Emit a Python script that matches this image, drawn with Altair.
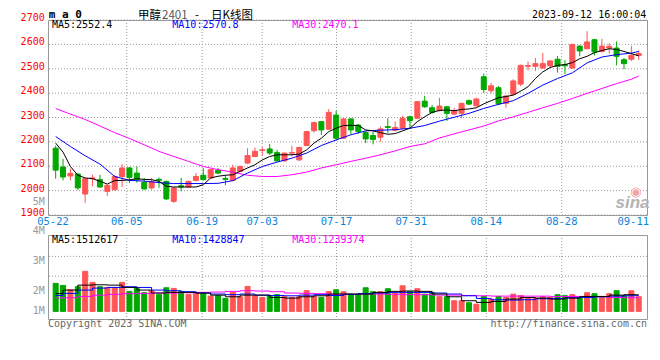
import altair as alt
import pandas as pd

MONO = "DejaVu Sans Mono"
CJK = "Noto Sans CJK SC"
RED = "#ff5555"
GREEN = "#00a800"
GRID = "#9a9a9a"
BLUE_LBL = "#0a84dc"

# ---------------- data ----------------
day_idx = list(range(80))
opens = [2174, 2097, 2060, 2068, 1986, 2049, 2045, 1997, 2004, 2058,
         2093, 2072, 2034, 2011, 2046, 2038, 1956, 2020, 2015, 2042,
         2063, 2052, 2083, 2050, 2042, 2079, 2113, 2140, 2165, 2171,
         2156, 2122, 2154, 2126, 2185, 2246, 2283, 2252, 2310, 2215,
         2294, 2269, 2238, 2226, 2219, 2263, 2248, 2256, 2303, 2297,
         2367, 2340, 2328, 2344, 2314, 2317, 2369, 2348, 2467, 2410,
         2422, 2358, 2395, 2437, 2510, 2510, 2503, 2512, 2539, 2517,
         2503, 2593, 2582, 2619, 2571, 2585, 2585, 2537, 2539, 2555]
closes = [2084, 2056, 2071, 2011, 2049, 2052, 2015, 2022, 2058, 2093,
          2054, 2045, 2007, 2038, 2042, 1966, 2011, 2015, 2038, 2058,
          2045, 2086, 2072, 2046, 2093, 2099, 2144, 2161, 2167, 2154,
          2122, 2154, 2156, 2177, 2242, 2279, 2249, 2321, 2215, 2294,
          2249, 2242, 2212, 2210, 2253, 2259, 2259, 2297, 2287, 2365,
          2344, 2321, 2347, 2317, 2328, 2358, 2355, 2376, 2415, 2430,
          2356, 2388, 2450, 2514, 2513, 2521, 2521, 2532, 2510, 2512,
          2599, 2573, 2610, 2569, 2593, 2592, 2551, 2521, 2555, 2562]
highs = [2185, 2131, 2090, 2072, 2052, 2065, 2065, 2024, 2063, 2110,
         2097, 2099, 2052, 2052, 2054, 2041, 2015, 2052, 2041, 2072,
         2093, 2088, 2093, 2063, 2106, 2102, 2174, 2177, 2178, 2192,
         2167, 2156, 2184, 2180, 2246, 2283, 2286, 2335, 2328, 2297,
         2297, 2273, 2245, 2242, 2263, 2297, 2283, 2307, 2307, 2367,
         2389, 2351, 2381, 2347, 2340, 2361, 2374, 2381, 2480, 2442,
         2429, 2392, 2457, 2517, 2531, 2544, 2565, 2535, 2552, 2535,
         2603, 2596, 2654, 2623, 2623, 2605, 2612, 2544, 2593, 2575]
lows = [2049, 2042, 2042, 2003, 1950, 2018, 2011, 1978, 2001, 2015,
        2031, 2033, 2004, 2004, 2011, 1961, 1950, 1997, 2011, 2038,
        2042, 2049, 2068, 2022, 2038, 2076, 2110, 2137, 2144, 2147,
        2120, 2120, 2140, 2122, 2182, 2238, 2228, 2249, 2208, 2212,
        2231, 2233, 2195, 2190, 2201, 2235, 2242, 2253, 2253, 2293,
        2340, 2316, 2325, 2286, 2310, 2297, 2351, 2344, 2401, 2399,
        2351, 2340, 2389, 2429, 2494, 2491, 2501, 2506, 2484, 2478,
        2499, 2551, 2580, 2555, 2566, 2562, 2514, 2498, 2532, 2537]
# volume in millions
volumes = [2.55, 2.36, 1.97, 2.24, 3.64, 2.64, 2.24, 2.18, 2.18, 2.64,
           1.82, 2.09, 1.70, 1.88, 1.52, 2.15, 2.09, 1.82, 1.55, 1.73,
           1.64, 1.39, 1.43, 1.18, 1.75, 1.34, 2.27, 1.43, 1.27, 1.39,
           1.52, 1.34, 1.27, 1.34, 1.88, 1.34, 1.27, 1.80, 1.97, 1.79,
           1.57, 1.57, 2.15, 1.79, 1.79, 2.06, 1.64, 2.33, 1.82, 2.06,
           1.57, 1.73, 1.34, 1.34, 0.97, 0.97, 0.79, 0.66, 1.36, 1.12,
           1.36, 1.27, 1.57, 1.43, 1.18, 1.18, 1.34, 1.27, 1.52, 1.43,
           1.52, 1.27, 1.70, 1.61, 1.27, 1.61, 1.88, 1.43, 1.88, 1.34]

ma5 = [2195, 2158, 2099, 2063, 2052, 2049, 2038, 2027, 2041, 2042,
       2044, 2049, 2046, 2045, 2038, 2018, 2015, 2015, 2015, 2015,
       2024, 2052, 2059, 2063, 2065, 2079, 2093, 2106, 2126, 2140,
       2147, 2147, 2147, 2150, 2167, 2195, 2215, 2242, 2256, 2267,
       2268, 2267, 2249, 2245, 2238, 2231, 2234, 2245, 2256, 2283,
       2303, 2321, 2329, 2331, 2328, 2333, 2335, 2340, 2356, 2369,
       2381, 2386, 2392, 2408, 2426, 2460, 2487, 2505, 2514, 2517,
       2525, 2541, 2551, 2566, 2575, 2582, 2579, 2571, 2562, 2553]

ma_idx = [0, 2, 4, 6, 8, 10, 12, 14, 16, 18, 20, 22, 24, 26, 28, 30, 32, 34, 36, 38,
          40, 42, 44, 46, 48, 50, 52, 54, 56, 58, 60, 62, 64, 66, 68, 70, 72, 74, 76, 78, 79]
ma10 = [2222, 2181, 2143, 2109, 2058, 2042, 2039, 2033, 2029, 2029, 2029, 2030, 2041, 2072,
        2099, 2117, 2133, 2154, 2185, 2208, 2229, 2245, 2248, 2250, 2256, 2267, 2285, 2301,
        2317, 2337, 2354, 2369, 2399, 2433, 2460, 2483, 2524, 2548, 2558, 2564, 2571]
ma30 = [2337, 2314, 2292, 2265, 2238, 2214, 2188, 2161, 2140, 2120, 2099, 2086, 2076, 2063,
        2058, 2058, 2065, 2076, 2093, 2106, 2120, 2133, 2147, 2163, 2181, 2192, 2216, 2233,
        2249, 2265, 2286, 2303, 2321, 2340, 2358, 2378, 2399, 2419, 2439, 2457, 2470]

vma5 = [1.62, 1.94, 2.39, 2.42, 2.39, 2.18, 1.94, 1.67, 1.73, 1.73, 1.67, 1.48, 1.33, 1.48,
        1.48, 1.27, 1.21, 1.33, 1.42, 1.58, 1.58, 1.58, 1.73, 1.82, 1.85, 1.82, 1.58, 1.33,
        0.97, 0.82, 0.91, 1.12, 1.27, 1.21, 1.12, 1.21, 1.36, 1.36, 1.48, 1.52, 1.51]
vma10 = [1.45, 1.64, 1.94, 2.12, 2.18, 2.24, 2.18, 1.94, 1.88, 1.79, 1.67, 1.58, 1.52, 1.58,
         1.48, 1.45, 1.42, 1.48, 1.52, 1.45, 1.55, 1.61, 1.67, 1.73, 1.73, 1.73, 1.67, 1.58,
         1.42, 1.18, 1.06, 1.03, 1.06, 1.15, 1.18, 1.24, 1.27, 1.33, 1.39, 1.42, 1.43]
vma30 = [1.22, 1.24, 1.36, 1.48, 1.55, 1.61, 1.64, 1.67, 1.67, 1.70, 1.73, 1.76, 1.82, 1.88,
         1.85, 1.79, 1.67, 1.64, 1.61, 1.52, 1.55, 1.58, 1.58, 1.55, 1.52, 1.52, 1.48, 1.48,
         1.45, 1.42, 1.39, 1.39, 1.39, 1.39, 1.36, 1.36, 1.33, 1.33, 1.27, 1.24, 1.24]

# date labels and vertical gridlines, positions (in trading-day units)
tick_pos = [-0.36, 9.63, 19.85, 27.98, 38.05, 48.17, 58.35, 68.56, 78.25]
tick_labels = ["05-22", "06-05", "06-19", "07-03", "07-17", "07-31", "08-14", "08-28", "09-11"]
vgrid_pos = [9.63, 19.85, 27.98, 38.05, 48.17, 58.35, 68.56]
price_ticks = [1900, 2000, 2100, 2200, 2300, 2400, 2500, 2600, 2700]
price_labels = ["1900", "2000", "2100", "2200", "2300", "2400", "2500", "2600", "2700"]
vol_label_vals = [0, 1.82, 4.55]
vol_labels = ["1M", "2M", "3M"]
vol_grid_vals = [3.2, 5.0]

# ---------------- tables ----------------
df = pd.DataFrame({"i": day_idx, "open": opens, "close": closes, "high": highs,
                   "low": lows, "vol": volumes})
df["dir"] = ["up" if c >= o else "down" for o, c in zip(opens, closes)]
ma5_df = pd.DataFrame({"i": day_idx, "v": ma5})
ma10_df = pd.DataFrame({"i": ma_idx, "v": ma10})
ma30_df = pd.DataFrame({"i": ma_idx, "v": ma30})
vma5_df = pd.DataFrame({"i": ma_idx, "v": vma5})
vma10_df = pd.DataFrame({"i": ma_idx, "v": vma10})
vma30_df = pd.DataFrame({"i": ma_idx, "v": vma30})
vgrid_df = pd.DataFrame({"g": vgrid_pos})
pgrid_df = pd.DataFrame({"p": price_ticks, "t": price_labels})
date_df = pd.DataFrame({"i": tick_pos, "t": tick_labels})
vlbl_df = pd.DataFrame({"v": vol_label_vals, "t": vol_labels})
hgrid_df = pd.DataFrame({"g": vol_grid_vals})

xscale = alt.Scale(domain=[-0.36, 79.44], nice=False, zero=False)
pscale = alt.Scale(domain=[1900, 2700], nice=False, zero=False)
vscale = alt.Scale(domain=[-0.69, 6.945], nice=False, zero=False)
cscale = alt.Scale(domain=["up", "down"], range=[RED, GREEN])

W = 599


def X(field):
    return alt.X(field, scale=xscale, axis=None)


def ann(text, x, y, color="#000000", size=10, font=MONO, align="left",
        weight="normal", style="normal"):
    return alt.Chart(alt.Data(values=[{"k": 0}])).mark_text(
        text=text, align=align, baseline="middle", font=font, fontSize=size,
        color=color, fontWeight=weight, fontStyle=style
    ).encode(x=alt.value(x), y=alt.value(y))


def line(data, color, scale, interp="linear"):
    return alt.Chart(data).mark_line(strokeWidth=1, color=color, interpolate=interp).encode(
        x=X("i:Q"), y=alt.Y("v:Q", scale=scale, axis=None))


# ---------------- price panel ----------------
p_hgrid = alt.Chart(pgrid_df).mark_rule(color=GRID, strokeDash=[1, 2], strokeWidth=1).encode(
    y=alt.Y("p:Q", scale=pscale, axis=None))
p_vgrid = alt.Chart(vgrid_df).mark_rule(color=GRID, strokeDash=[1, 2], strokeWidth=1).encode(
    x=X("g:Q"))
p_labels = alt.Chart(pgrid_df).mark_text(
    align="right", baseline="middle", font=MONO, fontSize=10, color="#ff0000", dy=-2
).encode(x=alt.value(-3.3), y=alt.Y("p:Q", scale=pscale, axis=None), text="t:N")
d_labels = alt.Chart(date_df).mark_text(
    align="center", baseline="middle", font=MONO, fontSize=10.5, color=BLUE_LBL
).encode(x=X("i:Q"), y=alt.value(202.3), text="t:N")
wicks = alt.Chart(df).mark_rule(strokeWidth=1).encode(
    x=X("i:Q"),
    y=alt.Y("low:Q", scale=pscale, axis=None),
    y2="high:Q",
    color=alt.Color("dir:N", scale=cscale, legend=None))
bodies = alt.Chart(df).mark_bar(size=5, strokeWidth=1).encode(
    x=X("i:Q"),
    y=alt.Y("open:Q", scale=pscale, axis=None),
    y2="close:Q",
    color=alt.Color("dir:N", scale=cscale, legend=None),
    stroke=alt.Stroke("dir:N", scale=cscale, legend=None))

price = alt.layer(
    p_hgrid, p_vgrid, p_labels, d_labels,
    ann("◉", 582, 172, color="#f2a3a3", size=13, font="DejaVu Sans"),
    ann("sina", 601.5, 183, color="#b4b4b4", size=17, font="Liberation Sans",
        align="right", weight="bold", style="italic"),
    wicks, bodies,
    line(ma30_df, "#ff00ff", pscale), line(ma10_df, "#0000ff", pscale),
    line(ma5_df, "#000000", pscale),
    ann("m a 0", 0.7, -5.5, size=11, weight="bold"),
    ann("甲醇", 90, -4.5, size=11.5, font=CJK),
    ann("2401", 114, -4.5, size=11.5, font=CJK, color="#555555"),
    ann("-", 149, -4.5, size=11.5, font=CJK, align="center"),
    ann("日K线图", 163, -4.5, size=11.5, font=CJK),
    ann("2023-09-12 16:00:04", 598.3, -5.5, align="right"),
    ann("MA5:2552.4", 4, 5),
    ann("MA10:2570.8", 124.3, 5, color="#0000ff"),
    ann("MA30:2470.1", 244.3, 5, color="#ff00ff"),
    ann("5M", -3.3, 181.7, color="#999999", align="right"),
).properties(width=W, height=195)

# ---------------- volume panel ----------------
v_vgrid = alt.Chart(vgrid_df).mark_rule(color=GRID, strokeDash=[1, 2], strokeWidth=1).encode(
    x=X("g:Q"))
v_hgrid = alt.Chart(hgrid_df).mark_rule(color=GRID, strokeDash=[1, 2], strokeWidth=1).encode(
    y=alt.Y("g:Q", scale=vscale, axis=None))
v_labels = alt.Chart(vlbl_df).mark_text(
    align="right", baseline="middle", font=MONO, fontSize=10, color="#999999"
).encode(x=alt.value(-3.3), y=alt.Y("v:Q", scale=vscale, axis=None), text="t:N")
vbars = alt.Chart(df).mark_bar(size=5, strokeWidth=1).encode(
    x=X("i:Q"),
    y=alt.Y("vol:Q", scale=vscale, axis=None),
    y2=alt.datum(0),
    color=alt.Color("dir:N", scale=cscale, legend=None),
    stroke=alt.Stroke("dir:N", scale=cscale, legend=None))

volume = alt.layer(
    v_vgrid, v_hgrid, v_labels, vbars,
    line(vma30_df, "#ff00ff", vscale, "step"),
    line(vma10_df, "#0000ff", vscale, "step"),
    line(vma5_df, "#000000", vscale, "step"),
    ann("MA5:1512617", 4, 5.2),
    ann("MA10:1428847", 124.3, 5.2, color="#0000ff"),
    ann("MA30:1239374", 244.3, 5.2, color="#ff00ff"),
    ann("4M", -3.3, -3.6, color="#999999", align="right"),
    ann("Copyright 2023 SINA.COM", 0, 89, color="#666666"),
    ann("http://finance.sina.com.cn", 599, 89, color="#666666", align="right"),
).properties(width=W, height=84)

chart = alt.vconcat(price, volume, spacing=20, bounds="flush").properties(
    padding={"left": 12, "top": 0, "right": 0, "bottom": 0},
    background="#ffffff",
).configure_view(stroke="#999999", strokeWidth=1)

chart.save("out.html", embed_options={"renderer": "svg", "actions": False})
